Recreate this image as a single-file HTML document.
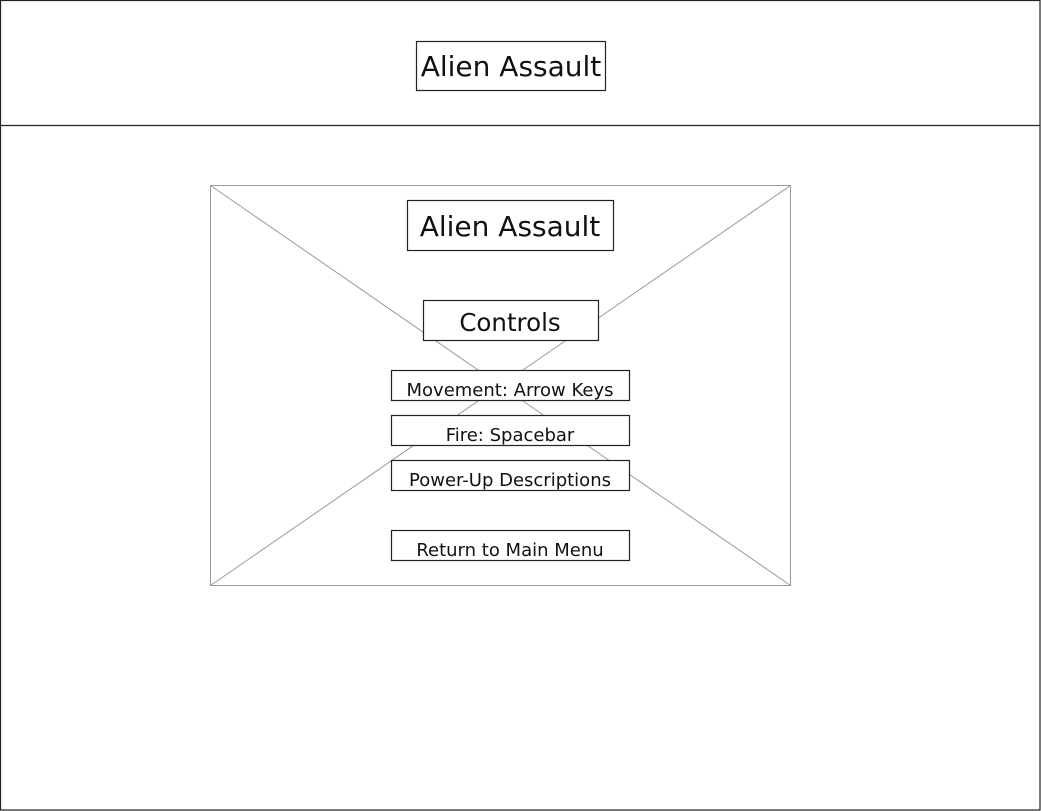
<!DOCTYPE html>
<html><head><meta charset="utf-8"><style>
html,body{margin:0;padding:0;background:#fff;width:1041px;height:811px;overflow:hidden}
svg{display:block}
text{font-family:"DejaVu Sans","Liberation Sans",sans-serif;fill:#111;text-anchor:middle}
</style></head><body>
<svg width="1041" height="811" viewBox="0 0 1041 811">
<rect x="0.5" y="0.5" width="1039.5" height="809.5" fill="#fff" stroke="#222" stroke-width="1.2"/>
<line x1="0" y1="125.5" x2="1040" y2="125.5" stroke="#222" stroke-width="1.2"/>
<rect x="416.5" y="41.5" width="189" height="49" fill="#fff" stroke="#222" stroke-width="1.2"/>
<text x="511" y="76" font-size="28">Alien Assault</text>
<rect x="210.5" y="185.5" width="580" height="400" fill="#fff" stroke="#999"/>
<line x1="210.5" y1="185.5" x2="790.5" y2="585.5" stroke="#999"/>
<line x1="790.5" y1="185.5" x2="210.5" y2="585.5" stroke="#999"/>
<rect x="407.5" y="200.5" width="206" height="50" fill="#fff" stroke="#222" stroke-width="1.2"/>
<text x="510" y="236" font-size="28">Alien Assault</text>
<rect x="423.5" y="300.5" width="175" height="40" fill="#fff" stroke="#222" stroke-width="1.2"/>
<text x="510" y="331" font-size="24.5">Controls</text>
<rect x="391.5" y="370.5" width="238" height="30" fill="#fff" stroke="#222" stroke-width="1.2"/>
<text x="510" y="396" font-size="18">Movement: Arrow Keys</text>
<rect x="391.5" y="415.5" width="238" height="30" fill="#fff" stroke="#222" stroke-width="1.2"/>
<text x="510" y="441" font-size="18">Fire: Spacebar</text>
<rect x="391.5" y="460.5" width="238" height="30" fill="#fff" stroke="#222" stroke-width="1.2"/>
<text x="510" y="486" font-size="18">Power-Up Descriptions</text>
<rect x="391.5" y="530.5" width="238" height="30" fill="#fff" stroke="#222" stroke-width="1.2"/>
<text x="510" y="556" font-size="18">Return to Main Menu</text>
</svg>
</body></html>
